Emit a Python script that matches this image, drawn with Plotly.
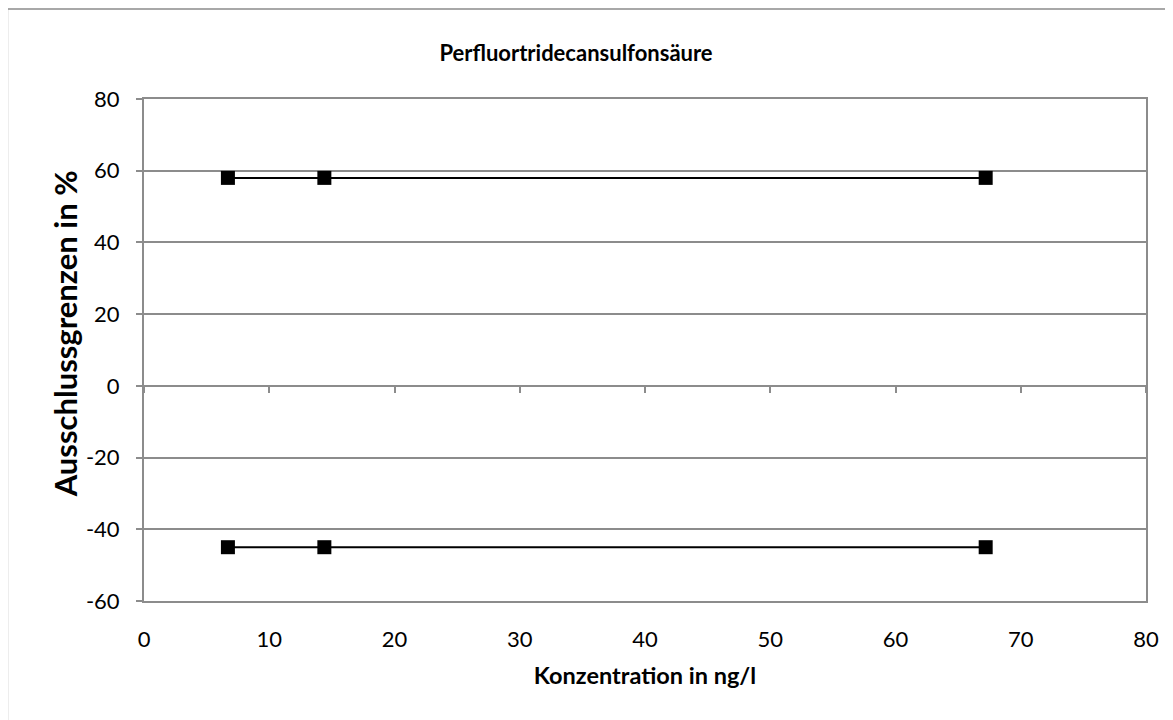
import plotly.graph_objects as go

# Konzentration in ng/l und Ausschlussgrenzen in %
konz = [6.7, 14.4, 67.2]
obere_grenze = [58, 58, 58]
untere_grenze = [-45, -45, -45]

y_ticks = [-60, -40, -20, 0, 20, 40, 60, 80]
y_ticktext = ["-60", "-40", "-20", "0", "20", "40", "60", "80"]

grid_clr = "#8c8c8c"
fnt = "Lato, Open Sans, sans-serif"

fig = go.Figure()

for yy in (obere_grenze, untere_grenze):
    fig.add_trace(go.Scatter(
        x=konz, y=yy, mode="lines+markers",
        line=dict(color="black", width=2),
        marker=dict(symbol="square", size=14, color="black"),
        showlegend=False, hoverinfo="x+y"))

# unsichtbare Spur fuer die Achse bei y=0 (Ticks an der Nulllinie)
fig.add_trace(go.Scatter(x=[0, 80], y=[0, 0], xaxis="x2", mode="lines",
                         line=dict(width=0), showlegend=False, hoverinfo="skip"))

# Seite hat ca. 7px Rand -> Figur etwas kleiner
fig.update_layout(
    width=1166, height=713,
    paper_bgcolor="white", plot_bgcolor="white",
    margin=dict(l=136, r=28, t=91, b=120),
    font=dict(family=fnt, color="black", size=22),
    title=dict(text="<b>Perfluortridecansulfonsäure</b>", x=568 / 1166, xanchor="center",
               y=1 - 45 / 713, yanchor="middle", font=dict(size=22)),
    xaxis=dict(range=[0, 80], dtick=10, showgrid=False, zeroline=False,
               showline=True, linecolor=grid_clr, linewidth=2, mirror=True,
               ticks="", ticklabelstandoff=18, tickfont=dict(size=22),
               title=dict(text="<b>Konzentration in ng/l</b>", font=dict(size=23.5), standoff=16)),
    xaxis2=dict(range=[0, 80], dtick=10, overlaying="x", anchor="free",
                position=60 / 140, showgrid=False, zeroline=False,
                showline=True, linecolor=grid_clr, linewidth=2,
                ticks="outside", ticklen=6, tickwidth=2, tickcolor=grid_clr,
                showticklabels=False),
    yaxis=dict(range=[-60, 80], tickvals=y_ticks, ticktext=y_ticktext,
               showgrid=True, gridcolor=grid_clr, gridwidth=1.5,
               zeroline=False, showline=True, linecolor=grid_clr, linewidth=2, mirror=True,
               ticks="outside", ticklen=6, tickwidth=2, tickcolor=grid_clr,
               ticklabelstandoff=12, tickfont=dict(size=22)),
)

# y-Achsentitel als Annotation (leicht oberhalb der Mitte)
fig.add_annotation(text="<b>Ausschlussgrenzen in %</b>", textangle=-90,
                   xref="paper", yref="paper", x=-78 / 994, y=(593 - 326) / 502,
                   xanchor="center", yanchor="middle", showarrow=False,
                   font=dict(size=31))

# Rahmen um das gesamte Diagramm
fig.add_shape(type="rect", xref="paper", yref="paper",
              x0=-135.5 / 994, x1=1.05, y0=-0.25, y1=1 + 90 / 502,
              line=dict(color=grid_clr, width=1.5), layer="below")

fig.write_html("out.html")
